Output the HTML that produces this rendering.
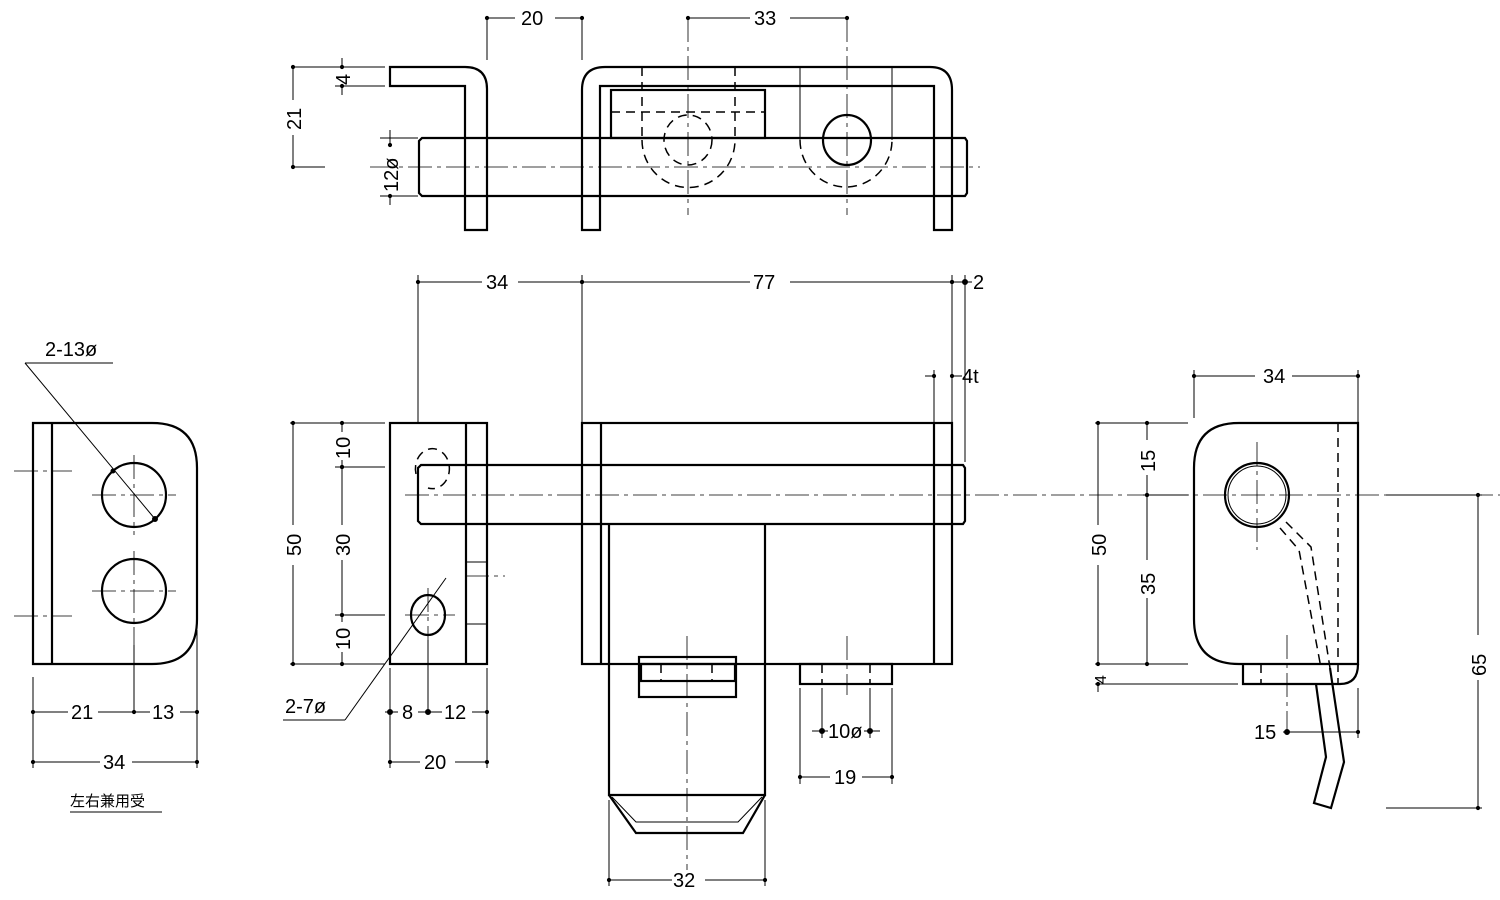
<!DOCTYPE html>
<html><head><meta charset="utf-8"><style>
html,body{margin:0;padding:0;background:#fff}
svg{display:block}
text{font-family:"Liberation Sans","Noto Sans CJK JP",sans-serif;font-size:20px;fill:#000}
.o{fill:none;stroke:#000;stroke-width:2.2}
.t{fill:none;stroke:#000;stroke-width:1}
.d{fill:none;stroke:#000;stroke-width:1.5;stroke-dasharray:9 6}
.c{fill:none;stroke:#000;stroke-width:0.8;stroke-dasharray:24 5 4 5}
</style></head><body>
<svg width="1500" height="900" viewBox="0 0 1500 900" xmlns="http://www.w3.org/2000/svg">
<defs><marker id="dt" viewBox="0 0 6 6" refX="3" refY="3" markerWidth="5" markerHeight="5"><circle cx="3" cy="3" r="2.5"/></marker></defs>
<g stroke="#000">
<!-- ===== TOP VIEW ===== -->
<path class="o" d="M390,67 H465 Q487,67 487,89 V230 H465 V86 H390 Z"/>
<path class="o" d="M582,230 V90 Q582,67 605,67 H930 Q952,67 952,90 V230 H934 V86 H600 V230 Z"/>
<path class="o" d="M422,138 H965 L967,141 V193 L965,196 H422 L419,193 V141 Z"/>
<rect class="o" x="611" y="90" width="154" height="48"/>
<line class="d" x1="611" y1="112" x2="765" y2="112"/>
<line class="d" x1="642" y1="67" x2="642" y2="140"/>
<line class="d" x1="735" y1="67" x2="735" y2="140"/>
<path class="d" d="M642,140 A46,47 0 0 0 735,140"/>
<ellipse class="d" cx="688" cy="140" rx="24" ry="25"/>
<line class="t" x1="800" y1="67" x2="800" y2="140"/>
<line class="t" x1="892" y1="67" x2="892" y2="140"/>
<path class="d" d="M800,140 A46,47 0 0 0 892,140"/>
<ellipse class="o" cx="847" cy="140" rx="24" ry="25"/>
<line class="c" x1="370" y1="167" x2="980" y2="167"/>
<line class="c" x1="688" y1="18" x2="688" y2="215"/>
<line class="c" x1="847" y1="18" x2="847" y2="215"/>
<!-- top dims -->
<line class="t" x1="487" y1="18" x2="487" y2="60"/><line class="t" x1="582" y1="18" x2="582" y2="60"/>
<line class="t" x1="487" y1="18" x2="515" y2="18" marker-start="url(#dt)"/><line class="t" x1="555" y1="18" x2="582" y2="18" marker-end="url(#dt)"/>
<line class="t" x1="688" y1="18" x2="750" y2="18" marker-start="url(#dt)"/><line class="t" x1="790" y1="18" x2="847" y2="18" marker-end="url(#dt)"/>
<line class="t" x1="293" y1="67" x2="385" y2="67"/><line class="t" x1="293" y1="167" x2="325" y2="167"/>
<line class="t" x1="293" y1="67" x2="293" y2="100" marker-start="url(#dt)"/><line class="t" x1="293" y1="135" x2="293" y2="167" marker-end="url(#dt)"/>
<line class="t" x1="335" y1="86" x2="385" y2="86"/>
<line class="t" x1="342" y1="58" x2="342" y2="67" marker-end="url(#dt)"/><line class="t" x1="342" y1="86" x2="342" y2="95" marker-start="url(#dt)"/>
<line class="t" x1="380" y1="138" x2="418" y2="138"/><line class="t" x1="380" y1="196" x2="418" y2="196"/>
<line class="t" x1="390" y1="130" x2="390" y2="145" marker-end="url(#dt)"/><line class="t" x1="390" y1="196" x2="390" y2="205" marker-start="url(#dt)"/>
</g>
<text x="521" y="25">20</text><text x="754" y="25">33</text>
<text transform="translate(301,130) rotate(-90)">21</text>
<text transform="translate(350,85) rotate(-90)">4</text>
<text transform="translate(398,192) rotate(-90)">12ø</text>

<g stroke="#000">
<!-- ===== LEFT VIEW ===== -->
<path class="o" d="M33,423 H152 Q197,423 197,468 V619 Q197,664 152,664 H33 Z"/>
<line class="o" x1="52" y1="423" x2="52" y2="664"/>
<circle class="o" cx="134" cy="495" r="32"/><circle class="o" cx="134" cy="591" r="32"/>
<line class="c" x1="92" y1="495" x2="176" y2="495"/><line class="c" x1="134" y1="455" x2="134" y2="535"/>
<line class="c" x1="92" y1="591" x2="176" y2="591"/><line class="c" x1="134" y1="551" x2="134" y2="645"/>
<line class="c" x1="14" y1="471" x2="72" y2="471"/><line class="c" x1="14" y1="616" x2="72" y2="616"/>
<line class="t" x1="25" y1="363" x2="113" y2="363"/><line class="t" x1="25" y1="363" x2="155" y2="519"/>
<circle cx="155" cy="519" r="2.5"/><circle cx="113" cy="471" r="2"/>
<line class="t" x1="33" y1="677" x2="33" y2="768"/><line class="t" x1="134" y1="645" x2="134" y2="712"/><line class="t" x1="197" y1="630" x2="197" y2="768"/>
<line class="t" x1="33" y1="712" x2="68" y2="712" marker-start="url(#dt)"/><line class="t" x1="98" y1="712" x2="134" y2="712" marker-end="url(#dt)"/>
<line class="t" x1="134" y1="712" x2="150" y2="712"/><line class="t" x1="180" y1="712" x2="197" y2="712" marker-end="url(#dt)"/>
<line class="t" x1="33" y1="762" x2="100" y2="762" marker-start="url(#dt)"/><line class="t" x1="132" y1="762" x2="197" y2="762" marker-end="url(#dt)"/>
<line class="t" x1="70" y1="812" x2="162" y2="812"/>
</g>
<text x="45" y="356">2-13ø</text>
<text x="71" y="719">21</text><text x="152" y="719">13</text><text x="103" y="769">34</text>
<text x="70" y="806" style="font-size:15px">左右兼用受</text>

<g stroke="#000">
<!-- ===== FRONT VIEW ===== -->
<rect class="o" x="390" y="423" width="97" height="241"/>
<line class="o" x1="466" y1="423" x2="466" y2="664"/>
<line class="t" x1="466" y1="465" x2="487" y2="465" stroke-dasharray="12 8"/>
<line class="t" x1="466" y1="524" x2="487" y2="524" stroke-dasharray="12 8"/>
<line class="t" x1="466" y1="562" x2="487" y2="562"/><line class="t" x1="466" y1="624" x2="487" y2="624"/>
<path class="d" d="M416,474 A17,20 0 1 1 428,488"/>
<ellipse class="o" cx="428" cy="615" rx="17" ry="20"/>
<line class="c" x1="405" y1="615" x2="455" y2="615"/><line class="c" x1="428" y1="588" x2="428" y2="640"/>
<line class="c" x1="465" y1="576" x2="505" y2="576"/>
<line class="c" x1="405" y1="495" x2="1500" y2="495"/>
<path class="o" d="M421,465 H963 L965,468 V521 L963,524 H421 L418,521 V468 Z"/>
<line class="d" x1="466" y1="465" x2="487" y2="465"/>
<rect class="o" x="582" y="423" width="370" height="241"/>
<line class="o" x1="601" y1="423" x2="601" y2="664"/><line class="o" x1="934" y1="423" x2="934" y2="664"/>
<path class="o" d="M609,524 V795 H765 V524"/>
<path class="o" d="M609,795 L636,833 H743 L765,795"/>
<path class="t" d="M612,797 L636,822 H738 L762,797"/>
<rect class="o" x="639" y="657" width="97" height="40"/>
<rect class="o" x="641" y="664" width="94" height="17"/>
<line class="d" x1="661" y1="664" x2="661" y2="681"/><line class="d" x1="712" y1="664" x2="712" y2="681"/>
<line class="c" x1="687" y1="636" x2="687" y2="870"/>
<rect class="o" x="800" y="664" width="92" height="20"/>
<line class="d" x1="822" y1="664" x2="822" y2="684"/><line class="d" x1="870" y1="664" x2="870" y2="684"/>
<line class="c" x1="847" y1="636" x2="847" y2="695"/>
<!-- front dims -->
<line class="t" x1="418" y1="275" x2="418" y2="423"/><line class="t" x1="582" y1="275" x2="582" y2="423"/>
<line class="t" x1="952" y1="275" x2="952" y2="423"/><line class="t" x1="965" y1="275" x2="965" y2="462"/>
<line class="t" x1="934" y1="370" x2="934" y2="423"/>
<line class="t" x1="418" y1="282" x2="482" y2="282" marker-start="url(#dt)"/><line class="t" x1="518" y1="282" x2="582" y2="282" marker-end="url(#dt)"/>
<line class="t" x1="582" y1="282" x2="750" y2="282" marker-start="url(#dt)"/><line class="t" x1="790" y1="282" x2="952" y2="282" marker-end="url(#dt)"/>
<line class="t" x1="952" y1="282" x2="972" y2="282" marker-start="url(#dt)"/><circle cx="965" cy="282" r="2.5"/>
<line class="t" x1="925" y1="376" x2="934" y2="376" marker-end="url(#dt)"/><line class="t" x1="952" y1="376" x2="962" y2="376" marker-start="url(#dt)"/>
<line class="t" x1="290" y1="423" x2="385" y2="423"/><line class="t" x1="290" y1="664" x2="385" y2="664"/>
<line class="t" x1="335" y1="467" x2="385" y2="467"/><line class="t" x1="335" y1="615" x2="385" y2="615"/>
<line class="t" x1="293" y1="423" x2="293" y2="525" marker-start="url(#dt)"/><line class="t" x1="293" y1="565" x2="293" y2="664" marker-end="url(#dt)"/>
<line class="t" x1="342" y1="423" x2="342" y2="432" marker-start="url(#dt)"/><line class="t" x1="342" y1="460" x2="342" y2="467" marker-end="url(#dt)"/>
<line class="t" x1="342" y1="467" x2="342" y2="525" marker-start="url(#dt)"/><line class="t" x1="342" y1="560" x2="342" y2="615" marker-end="url(#dt)"/>
<line class="t" x1="342" y1="615" x2="342" y2="622" marker-start="url(#dt)"/><line class="t" x1="342" y1="652" x2="342" y2="664" marker-end="url(#dt)"/>
<line class="t" x1="283" y1="720" x2="345" y2="720"/><line class="t" x1="345" y1="720" x2="446" y2="578"/>
<line class="t" x1="390" y1="668" x2="390" y2="768"/><line class="t" x1="428" y1="640" x2="428" y2="712"/><line class="t" x1="487" y1="668" x2="487" y2="768"/>
<line class="t" x1="385" y1="712" x2="398" y2="712"/><circle cx="390" cy="712" r="2.5"/>
<line class="t" x1="418" y1="712" x2="442" y2="712"/><circle cx="428" cy="712" r="2.5"/>
<line class="t" x1="472" y1="712" x2="487" y2="712" marker-end="url(#dt)"/>
<line class="t" x1="390" y1="762" x2="420" y2="762" marker-start="url(#dt)"/><line class="t" x1="455" y1="762" x2="487" y2="762" marker-end="url(#dt)"/>
<line class="t" x1="609" y1="800" x2="609" y2="886"/><line class="t" x1="765" y1="800" x2="765" y2="886"/>
<line class="t" x1="609" y1="880" x2="672" y2="880" marker-start="url(#dt)"/><line class="t" x1="705" y1="880" x2="765" y2="880" marker-end="url(#dt)"/>
<line class="t" x1="800" y1="688" x2="800" y2="784"/><line class="t" x1="892" y1="688" x2="892" y2="784"/>
<line class="t" x1="822" y1="688" x2="822" y2="738"/><line class="t" x1="870" y1="688" x2="870" y2="738"/>
<line class="t" x1="812" y1="731" x2="828" y2="731"/><circle cx="822" cy="731" r="2.5"/>
<line class="t" x1="864" y1="731" x2="880" y2="731"/><circle cx="870" cy="731" r="2.5"/>
<line class="t" x1="800" y1="777" x2="830" y2="777" marker-start="url(#dt)"/><line class="t" x1="862" y1="777" x2="892" y2="777" marker-end="url(#dt)"/>
</g>
<text x="486" y="289">34</text><text x="753" y="289">77</text><text x="973" y="289">2</text><text x="962" y="383">4t</text>
<text transform="translate(301,556) rotate(-90)">50</text>
<text transform="translate(350,459) rotate(-90)">10</text>
<text transform="translate(350,556) rotate(-90)">30</text>
<text transform="translate(350,650) rotate(-90)">10</text>
<text x="285" y="713">2-7ø</text>
<text x="402" y="719">8</text><text x="444" y="719">12</text><text x="424" y="769">20</text>
<text x="673" y="887">32</text><text x="828" y="738">10ø</text><text x="834" y="784">19</text>

<g stroke="#000">
<!-- ===== RIGHT VIEW ===== -->
<path class="o" d="M1358,423 V664 H1239 Q1194,664 1194,619 V468 Q1194,423 1239,423 Z"/>
<path class="o" d="M1243,664 V684 H1340 Q1358,684 1358,664"/>
<line class="d" x1="1338" y1="423" x2="1338" y2="684"/>
<line class="d" x1="1261" y1="664" x2="1261" y2="684"/>
<circle class="o" cx="1257" cy="495" r="32"/><circle class="t" cx="1257" cy="495" r="29"/>
<line class="c" x1="1257" y1="442" x2="1257" y2="550"/>
<line class="c" x1="1287" y1="635" x2="1287" y2="735"/>
<path class="d" d="M1286,522 L1311,547 L1330,668"/>
<path class="d" d="M1280,528 L1299,550 L1321,668"/>
<path class="o" d="M1330,668 L1344,762 L1331,808 L1314,803 L1326,757 L1316,684"/>
<!-- right dims -->
<line class="t" x1="1194" y1="370" x2="1194" y2="418"/><line class="t" x1="1358" y1="370" x2="1358" y2="423"/>
<line class="t" x1="1194" y1="376" x2="1255" y2="376" marker-start="url(#dt)"/><line class="t" x1="1292" y1="376" x2="1358" y2="376" marker-end="url(#dt)"/>
<line class="t" x1="1095" y1="423" x2="1188" y2="423"/><line class="t" x1="1095" y1="664" x2="1188" y2="664"/>
<line class="t" x1="1095" y1="684" x2="1238" y2="684"/>
<line class="t" x1="1143" y1="495" x2="1188" y2="495"/>
<line class="t" x1="1098" y1="423" x2="1098" y2="525" marker-start="url(#dt)"/><line class="t" x1="1098" y1="565" x2="1098" y2="664" marker-end="url(#dt)"/>
<line class="t" x1="1098" y1="684" x2="1098" y2="692" marker-start="url(#dt)"/>
<line class="t" x1="1147" y1="423" x2="1147" y2="440" marker-start="url(#dt)"/><line class="t" x1="1147" y1="475" x2="1147" y2="495" marker-end="url(#dt)"/>
<line class="t" x1="1147" y1="495" x2="1147" y2="560" marker-start="url(#dt)"/><line class="t" x1="1147" y1="598" x2="1147" y2="664" marker-end="url(#dt)"/>
<line class="t" x1="1386" y1="495" x2="1482" y2="495"/><line class="t" x1="1386" y1="808" x2="1482" y2="808"/>
<line class="t" x1="1478" y1="495" x2="1478" y2="635" marker-start="url(#dt)"/><line class="t" x1="1478" y1="680" x2="1478" y2="808" marker-end="url(#dt)"/>
<line class="t" x1="1358" y1="688" x2="1358" y2="738"/>
<line class="t" x1="1283" y1="732" x2="1358" y2="732" marker-end="url(#dt)"/><circle cx="1287" cy="732" r="2.5"/>
</g>
<text x="1263" y="383">34</text>
<text transform="translate(1106,556) rotate(-90)">50</text>
<text transform="translate(1155,472) rotate(-90)">15</text>
<text transform="translate(1155,595) rotate(-90)">35</text>
<text transform="translate(1106,684) rotate(-90)" style="font-size:16px">4</text>
<text transform="translate(1486,676) rotate(-90)">65</text>
<text x="1254" y="739">15</text>
</svg>
</body></html>
